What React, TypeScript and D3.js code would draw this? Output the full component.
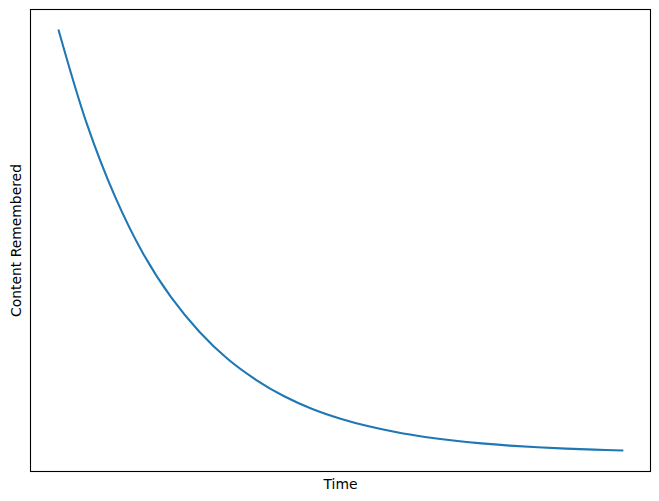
import React from "react";
import * as d3 from "d3";

const times = [0, 0.5, 1, 1.5, 2, 2.5, 3, 3.5, 4, 4.5, 5, 5.5, 6, 6.5, 7, 7.5, 8, 8.5, 9, 9.5, 10];
const remembered = [1.0, 0.779, 0.607, 0.472, 0.368, 0.287, 0.223, 0.174, 0.135, 0.105, 0.082, 0.064, 0.0498, 0.0388, 0.0302, 0.0235, 0.0183, 0.0143, 0.0111, 0.0087, 0.0067];
const xLabel = "Time";
const yLabel = "Content Remembered";

export default function App() {
  const W = 659, H = 501;
  const left = 30.5, right = 650.5, top = 9.5, bottom = 471.5;
  const xmin = d3.min(times)!, xmax = d3.max(times)!;
  const ymin = d3.min(remembered)!, ymax = d3.max(remembered)!;
  const xm = (xmax - xmin) * 0.05, ym = (ymax - ymin) * 0.05;
  const x = d3.scaleLinear().domain([xmin - xm, xmax + xm]).range([left, right]);
  const y = d3.scaleLinear().domain([ymin - ym, ymax + ym]).range([bottom, top]);
  const pts = times.map((t, i) => [t, remembered[i]] as [number, number]);
  const line = d3.line<[number, number]>().x(d => x(d[0])).y(d => y(d[1])).curve(d3.curveCatmullRom.alpha(0.5));
  const font = "'DejaVu Sans'";
  return (
    <svg width={W} height={H} style={{ position: "fixed", left: 0, top: 0, background: "#fff" }}>
      <rect x={0} y={0} width={W} height={H} fill="#fff" />
      <path d={line(pts) || ""} fill="none" stroke="#1f77b4" strokeWidth={2.08} strokeLinecap="square" />
      <rect x={left} y={top} width={right - left} height={bottom - top} fill="none" stroke="#000" strokeWidth={1.1} />
      <text x={(left + right) / 2} y={489} textAnchor="middle" style={{ fontFamily: font }} fontSize={13.9} fill="#000">{xLabel}</text>
      <text transform={`translate(21,${(top + bottom) / 2}) rotate(-90)`} textAnchor="middle" style={{ fontFamily: font }} fontSize={13.9} fill="#000">{yLabel}</text>
    </svg>
  );
}
